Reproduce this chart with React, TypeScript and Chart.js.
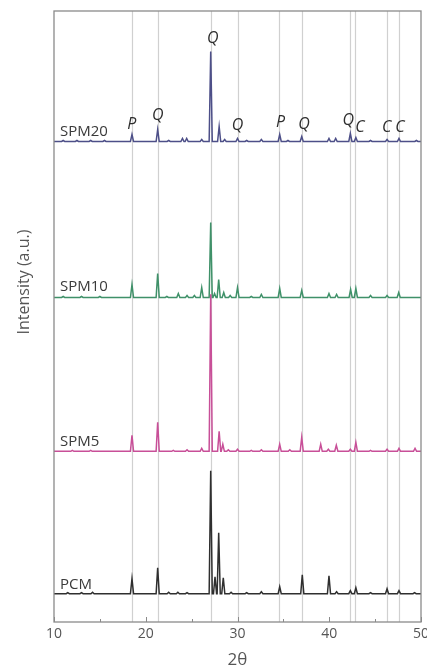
import React, { useEffect, useRef } from 'react';
import { Chart, registerables } from 'chart.js';

Chart.register(...registerables);

// ---- axis data ----
const X_MIN = 10;
const X_MAX = 50;
const Y_MIN = 0;
const Y_MAX = 611;
const xTickValues = [10, 20, 30, 40, 50];
const xMinorTickValues = [15, 25, 35, 45];
const referenceLines = [18.47, 21.3, 27.08, 30.0, 34.56, 37.03, 42.26, 42.84, 46.26, 47.6];

// ---- series ----
const seriesNames = ['PCM', 'SPM5', 'SPM10', 'SPM20'];
const seriesColors = ['#2f2f2f', '#c84f98', '#3f9169', '#4d4f88'];
const seriesOffsets = [28.3, 170.7, 324.5, 480.5];
const seriesLabelLift = [9, 10, 10.5, 9.5];
const SERIES_LABEL_X = 10.65;

const pcmPeakPositions = [11.5, 13.0, 14.2, 18.5, 21.3, 22.5, 23.5, 24.5, 27.08, 27.55, 27.95, 28.45, 29.3, 31.0, 32.6, 34.6, 37.06, 39.97, 40.8, 42.3, 42.9, 44.5, 46.3, 47.6, 49.3];
const pcmPeakHeights = [1, 1, 1.5, 15, 26, 1.5, 1.5, 1, 123, 17, 61, 16, 1.5, 1, 2, 7, 19, 18, 2, 3, 6, 1, 5, 3, 1];

const spm5PeakPositions = [12.0, 14.0, 18.5, 21.3, 23.0, 24.5, 26.1, 27.08, 28.0, 28.4, 29.0, 30.0, 31.5, 32.6, 34.6, 35.7, 37.0, 39.07, 39.9, 40.77, 42.3, 42.9, 44.5, 46.3, 47.6, 49.35];
const spm5PeakHeights = [1, 1, 16, 29, 1, 1.5, 3, 157, 20, 7, 1.5, 2, 1, 1.5, 7, 1.5, 14, 7, 2, 6, 2, 9, 1, 2, 3, 3];

const spm10PeakPositions = [11.0, 13.0, 15.0, 18.5, 21.3, 22.3, 23.55, 24.5, 25.3, 26.1, 27.08, 27.5, 27.95, 28.5, 29.2, 30.0, 31.5, 32.6, 34.6, 37.0, 39.97, 40.8, 42.33, 42.9, 44.5, 46.3, 47.57];
const spm10PeakHeights = [1, 1, 1, 13, 24, 1, 4, 2, 2, 10, 75, 4, 18, 5, 2, 10, 1, 3, 9, 7, 4, 3, 8, 9, 2, 2, 5];

const spm20PeakPositions = [11.0, 12.5, 14.0, 15.5, 18.5, 21.3, 22.5, 24.0, 24.46, 26.1, 27.08, 28.0, 28.6, 30.0, 31.0, 32.6, 34.6, 35.5, 37.0, 39.97, 40.7, 42.3, 42.9, 44.5, 46.3, 47.6, 49.5];
const spm20PeakHeights = [1, 1, 1, 1, 7, 12, 1, 3, 3, 2, 90, 15, 2, 3, 1, 2, 7, 1, 5, 3, 3, 8, 4, 1, 2, 3, 1];

const PEAK_HALF_WIDTH = 0.17;

// ---- phase markers ----
const phaseLetters = ['P', 'Q', 'Q', 'Q', 'P', 'Q', 'Q', 'C', 'C', 'C'];
const phaseLetterX = [18.47, 21.3, 27.3, 30.0, 34.7, 37.25, 42.08, 43.35, 46.26, 47.7];
const phaseLetterY = [498, 507, 584, 497, 500, 498, 502, 495, 495, 495];

// ---- titles ----
const xAxisTitle = '2θ';
const yAxisTitle = 'Intensity (a.u.)';

const FONT = '"Open Sans", "Noto Sans", sans-serif';

function buildPattern(positions: number[], heights: number[], offset: number) {
  const pts: { x: number; y: number }[] = [{ x: X_MIN, y: offset }];
  positions.forEach((p, i) => {
    pts.push({ x: p - PEAK_HALF_WIDTH, y: offset });
    pts.push({ x: p, y: offset + heights[i] });
    pts.push({ x: p + PEAK_HALF_WIDTH, y: offset });
  });
  pts.push({ x: X_MAX, y: offset });
  pts.sort((a, b) => a.x - b.x);
  return pts;
}

const seriesPeaks: [number[], number[]][] = [
  [pcmPeakPositions, pcmPeakHeights],
  [spm5PeakPositions, spm5PeakHeights],
  [spm10PeakPositions, spm10PeakHeights],
  [spm20PeakPositions, spm20PeakHeights],
];

const decorPlugin = {
  id: 'xrdDecor',
  beforeDatasetsDraw(chart: any) {
    const { ctx, chartArea, scales } = chart;
    const xs = scales.x;
    ctx.save();
    ctx.strokeStyle = '#d0d0d0';
    ctx.lineWidth = 1.2;
    referenceLines.forEach((v) => {
      const px = Math.round(xs.getPixelForValue(v)) + 0.5;
      ctx.beginPath();
      ctx.moveTo(px, chartArea.top);
      ctx.lineTo(px, chartArea.bottom);
      ctx.stroke();
    });
    ctx.restore();
  },
  afterDatasetsDraw(chart: any) {
    const { ctx, chartArea, scales } = chart;
    const xs = scales.x;
    const ys = scales.y;
    const { left, right, top, bottom } = chartArea;
    ctx.save();
    // frame
    ctx.strokeStyle = '#8a8a8a';
    ctx.lineWidth = 1.3;
    ctx.strokeRect(left, top, right - left, bottom - top);
    // ticks
    ctx.lineWidth = 1;
    xTickValues.forEach((v) => {
      const px = Math.round(xs.getPixelForValue(v)) + 0.5;
      ctx.beginPath();
      ctx.moveTo(px, bottom);
      ctx.lineTo(px, bottom - 5);
      ctx.stroke();
    });
    xMinorTickValues.forEach((v) => {
      const px = Math.round(xs.getPixelForValue(v)) + 0.5;
      ctx.beginPath();
      ctx.moveTo(px, bottom);
      ctx.lineTo(px, bottom - 3);
      ctx.stroke();
    });
    // tick labels
    ctx.fillStyle = '#555555';
    ctx.font = `14px ${FONT}`;
    ctx.textAlign = 'center';
    ctx.textBaseline = 'middle';
    xTickValues.forEach((v) => {
      ctx.fillText(String(v), xs.getPixelForValue(v), bottom + 12);
    });
    // x title
    ctx.font = `17px ${FONT}`;
    ctx.fillText(xAxisTitle, (left + right) / 2, bottom + 38);
    // y title
    ctx.save();
    ctx.translate(24, 282);
    ctx.rotate(-Math.PI / 2);
    ctx.font = `16px ${FONT}`;
    ctx.fillText(yAxisTitle, 0, 0);
    ctx.restore();
    // phase letters
    ctx.fillStyle = '#2e2e2e';
    ctx.font = `italic 16px ${FONT}`;
    phaseLetters.forEach((t, i) => {
      ctx.fillText(t, xs.getPixelForValue(phaseLetterX[i]), ys.getPixelForValue(phaseLetterY[i]));
    });
    // series labels
    ctx.fillStyle = '#3a3a3a';
    ctx.font = `15px ${FONT}`;
    ctx.textAlign = 'left';
    seriesNames.forEach((n, i) => {
      ctx.fillText(n, xs.getPixelForValue(SERIES_LABEL_X), ys.getPixelForValue(seriesOffsets[i] + seriesLabelLift[i]));
    });
    ctx.restore();
  },
};

export default function App() {
  const canvasRef = useRef<HTMLCanvasElement | null>(null);

  useEffect(() => {
    if (!canvasRef.current) return;
    const chart = new Chart(canvasRef.current, {
      type: 'line',
      data: {
        datasets: seriesNames.map((name, i) => ({
          label: name,
          data: buildPattern(seriesPeaks[i][0], seriesPeaks[i][1], seriesOffsets[i]),
          borderColor: seriesColors[i],
          borderWidth: 1.5,
          pointRadius: 0,
          tension: 0,
          fill: false,
        })),
      },
      plugins: [decorPlugin],
      options: {
        animation: false,
        responsive: true,
        maintainAspectRatio: false,
        devicePixelRatio: 1,
        layout: { padding: { left: 54, right: 6, top: 11, bottom: 46 } },
        plugins: {
          legend: { display: false },
          tooltip: { enabled: false },
        },
        scales: {
          x: { type: 'linear', min: X_MIN, max: X_MAX, display: false },
          y: { type: 'linear', min: Y_MIN, max: Y_MAX, display: false },
        },
      },
    });
    return () => chart.destroy();
  }, []);

  return (
    <div style={{ position: 'fixed', left: 0, top: 0, width: 427, height: 668, background: '#fff' }}>
      <canvas ref={canvasRef} />
    </div>
  );
}
